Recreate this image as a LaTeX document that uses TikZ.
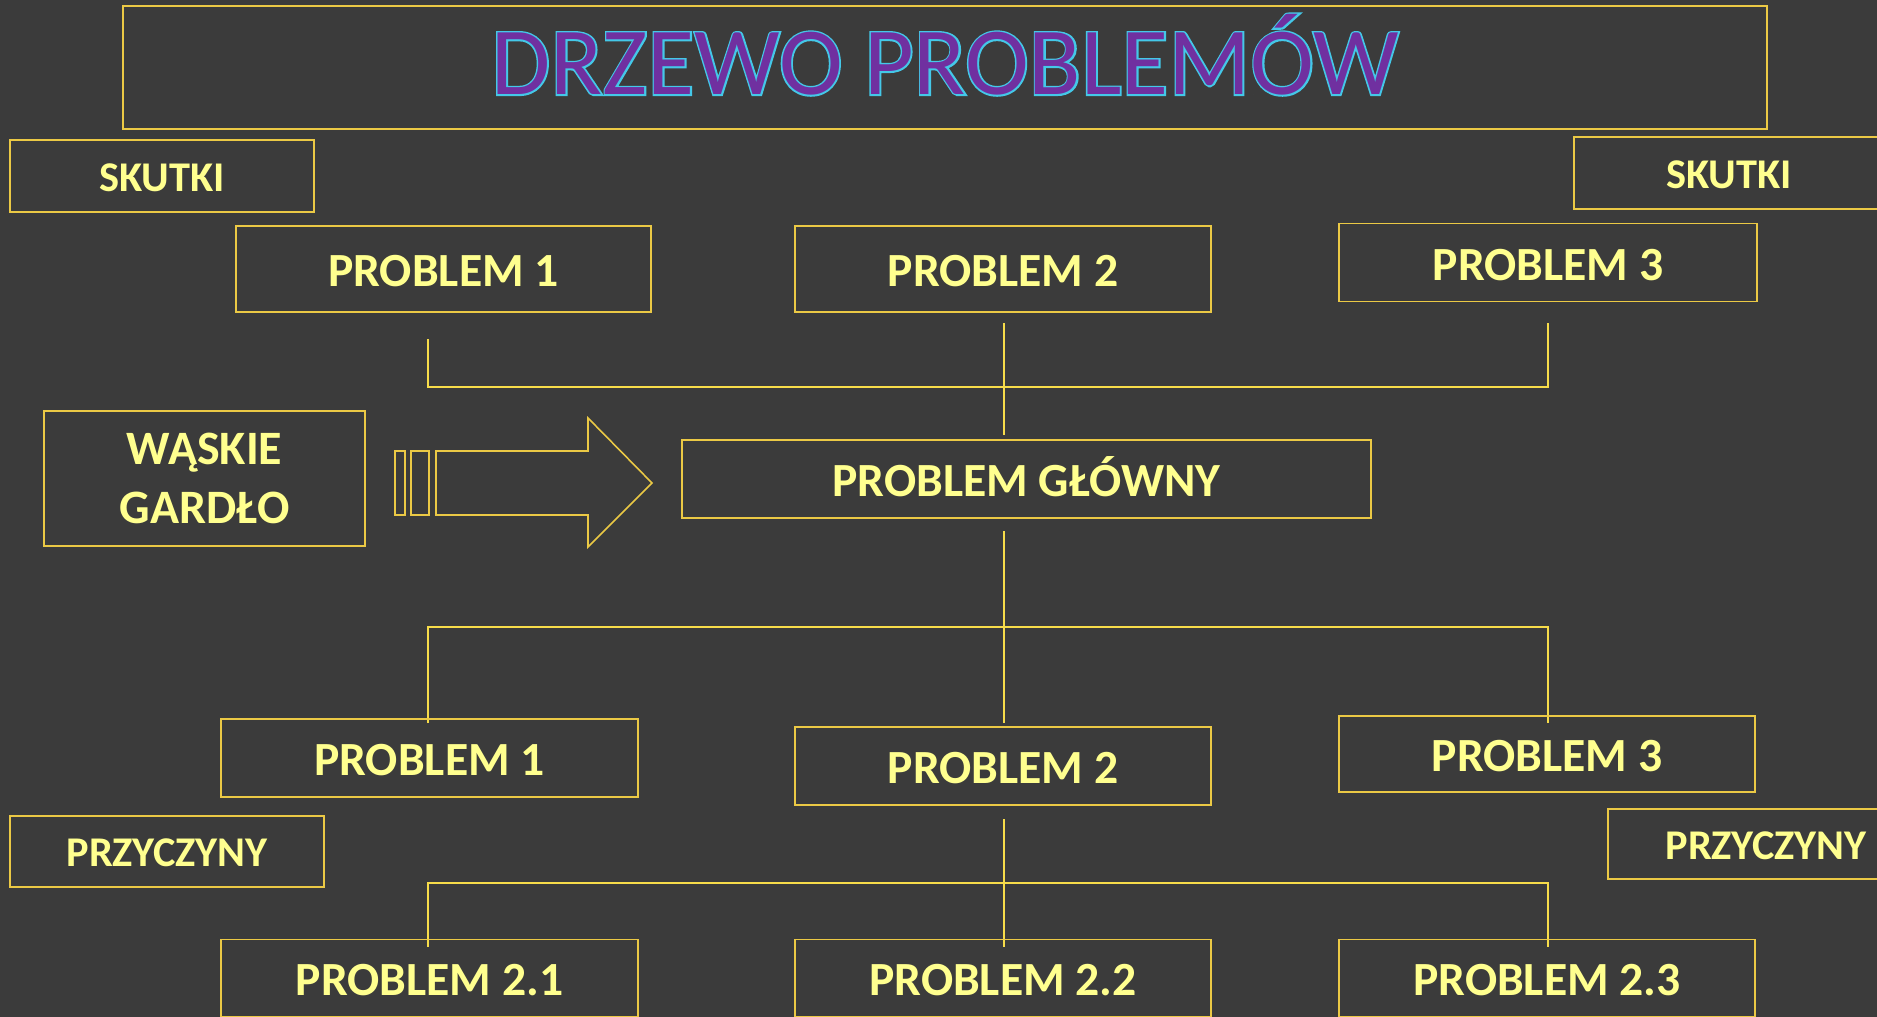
\documentclass[tikz,border=0pt]{standalone}
\usepackage{fontspec}
\setmainfont{Carlito}
\newfontfamily\tytul{Carlito}
\newfontfamily\tytulobrys[FakeBold=3.5]{Carlito}
\usepackage{tikz}

\definecolor{tlo}{HTML}{3B3B3B}
\definecolor{ramka}{HTML}{EBC945}
\definecolor{linia}{HTML}{F7DC4A}
\definecolor{napis}{HTML}{FFFF8F}
\definecolor{fiolet}{HTML}{7030A0}
\definecolor{obrys}{HTML}{44C8E8}

\begin{document}
\begin{tikzpicture}[x=0.02cm, y=-0.02cm,
  box/.style={draw=ramka, line width=0.9pt, fill=none, inner sep=0pt, text=napis, text height=20pt, text depth=0pt, font=\bfseries\fontsize{27.1}{32}\selectfont},
  small/.style={box, text height=17.6pt, font=\bfseries\fontsize{24.1}{29}\selectfont},
  titletext/.style={inner sep=0pt, text height=35.2pt, text depth=0pt, font=\fontsize{54.7}{60}\selectfont},
  conn/.style={draw=linia, line width=0.85pt}]
\fill[tlo] (0,0) rectangle (1877,1017);
\useasboundingbox (0,0) rectangle (1877,1017);

%title
\node[draw=ramka, line width=0.9pt, minimum width=32.88cm, minimum height=2.46cm] (T) at (945,67.5) {};
\node[titletext, text=obrys] (To) at (945,63.5) {\tytulobrys DRZEWO PROBLEMÓW};
\node[titletext, text=fiolet] (Tt) at (945,63.5) {\tytul DRZEWO PROBLEMÓW};

%skutki
\node[small, minimum width=6.08cm, minimum height=1.44cm] (S1) at (162,176) {SKUTKI};
\node[small, minimum width=6.2cm, minimum height=1.44cm] (S2) at (1729,173) {SKUTKI};
\node[box, minimum width=8.3cm, minimum height=1.72cm] (P1) at (443.5,269) {PROBLEM 1};
\node[box, minimum width=8.32cm, minimum height=1.72cm] (P2) at (1003,269) {PROBLEM 2};
\node[box, minimum width=8.36cm, minimum height=1.56cm] (P3) at (1548,262.5) {PROBLEM 3};
\coordinate (P1a) at (428,339);
\coordinate (P1b) at (428,387);
\coordinate (P2a) at (1004,323);
\coordinate (P2b) at (1004,387);
\coordinate (P2c) at (1004,435);
\coordinate (P3a) at (1548,323);
\coordinate (P3b) at (1548,387);
\draw[conn] (P1a) -- (P1b) -- (P3b) -- (P3a);
\draw[conn] (P2a) -- (P2c);

%problem glowny
\node[box, minimum width=13.78cm, minimum height=1.56cm] (G) at (1026.5,479) {PROBLEM GŁÓWNY};
\node[box, minimum width=6.42cm, minimum height=2.7cm, align=center, text height=, text depth=, font=\bfseries\fontsize{27.3}{33.5}\selectfont] (W) at (204.5,478.5) {WĄSKIE\\GARDŁO};
\draw[ramka, line width=0.9pt] (395,451) rectangle (405,515);
\draw[ramka, line width=0.9pt] (411,451) rectangle (429,515);
\draw[ramka, line width=0.9pt] (436,451) -- (588,451) -- (588,418) -- (652,483) -- (588,547) -- (588,515) -- (436,515) -- cycle;

%przyczyny
\coordinate (Ga) at (1004,531);
\coordinate (Gb) at (1004,627);
\coordinate (Gc) at (1004,723);
\coordinate (Q1a) at (428,627);
\coordinate (Q1b) at (428,723);
\coordinate (Q3a) at (1548,627);
\coordinate (Q3b) at (1548,723);
\draw[conn] (Ga) -- (Gc);
\draw[conn] (Q1b) -- (Q1a) -- (Q3a) -- (Q3b);
\node[box, minimum width=8.34cm, minimum height=1.56cm] (Q1) at (429.5,758) {PROBLEM 1};
\node[box, minimum width=8.32cm, minimum height=1.56cm] (Q2) at (1003,766) {PROBLEM 2};
\node[box, minimum width=8.32cm, minimum height=1.52cm] (Q3) at (1547,754) {PROBLEM 3};
\node[small, minimum width=6.28cm, minimum height=1.42cm] (R1) at (167,851.5) {PRZYCZYNY};
\node[small, minimum width=6.32cm, minimum height=1.4cm] (R2) at (1766,844) {PRZYCZYNY};

%graph 2
\coordinate (Q2a) at (1004,819);
\coordinate (Q2b) at (1004,883);
\coordinate (Q2c) at (1004,947);
\coordinate (Q21a) at (428,883);
\coordinate (Q21b) at (428,947);
\coordinate (Q23a) at (1548,883);
\coordinate (Q23b) at (1548,947);
\draw[conn] (Q2a) -- (Q2c);
\draw[conn] (Q21b) -- (Q21a) -- (Q23a) -- (Q23b);
\node[box, minimum width=8.34cm, minimum height=1.54cm] (Q21) at (429.5,978) {PROBLEM 2.1};
\node[box, minimum width=8.32cm, minimum height=1.54cm] (Q22) at (1003,978) {PROBLEM 2.2};
\node[box, minimum width=8.32cm, minimum height=1.54cm] (Q23) at (1547,978) {PROBLEM 2.3};
\end{tikzpicture}
\end{document}
